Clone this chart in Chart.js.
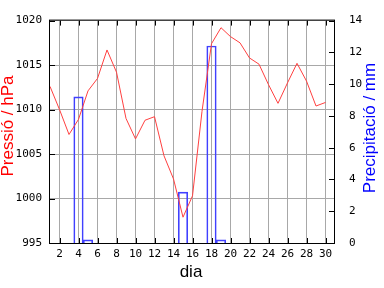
<!DOCTYPE html>
<html>
<head>
<meta charset="utf-8">
<script src="https://cdn.jsdelivr.net/npm/chart.js@4/dist/chart.umd.min.js"></script>
<style>
  html, body { margin: 0; padding: 0; background: #fff; }
  canvas { display: block; }
</style>
</head>
<body>
<canvas id="chart" width="384" height="288"></canvas>
<script>
// Data
const days = [1, 2, 3, 4, 5, 6, 7, 8, 9, 10, 11, 12, 13, 14, 15,
              16, 17, 18, 19, 20, 21, 22, 23, 24, 25, 26, 27, 28, 29, 30];
const pressure = [1012.6, 1010.0, 1007.2, 1008.9, 1012.1, 1013.5, 1016.7, 1014.2, 1009.0, 1006.7,
                  1008.8, 1009.2, 1004.8, 1002.2, 997.9, 1000.3, 1009.8, 1017.4, 1019.2, 1018.2,
                  1017.5, 1015.8, 1015.1, 1012.8, 1010.7, 1013.0, 1015.2, 1013.2, 1010.4, 1010.8];
const precip = [null, null, null, 9.2, 0.2, null, null, null, null, null,
                null, null, null, null, 3.2, null, null, 12.4, 0.2, null,
                null, null, null, null, null, null, null, null, null, null];
const dayTicks = [2, 4, 6, 8, 10, 12, 14, 16, 18, 20, 22, 24, 26, 28, 30];
const pressureTicks = [995, 1000, 1005, 1010, 1015, 1020];
const precipTicks = [0, 2, 4, 6, 8, 10, 12, 14];

const tickFont = { family: 'DejaVu Sans Mono', size: 11 };
const gridGray = '#a8a8a8';
const plain = v => String(v);

// white background, frame, inward tick marks and axis titles
const framePlugin = {
    id: 'frame',
    beforeDraw(chart) {
        const ctx = chart.ctx;
        ctx.save();
        ctx.fillStyle = '#fff';
        ctx.fillRect(0, 0, chart.width, chart.height);
        ctx.restore();
    },
    afterDraw(chart) {
        const { ctx, chartArea: a, scales } = chart;
        ctx.save();
        ctx.strokeStyle = '#000';
        ctx.lineWidth = 1;
        ctx.strokeRect(a.left - 0.5, a.top - 0.5, a.right - a.left, a.bottom - a.top + 1);

        ctx.beginPath();
        dayTicks.forEach(d => {
            const x = Math.round(scales.x.getPixelForValue(d)) + 0.5;
            ctx.moveTo(x, a.bottom); ctx.lineTo(x, a.bottom - 5);
            ctx.moveTo(x, a.top); ctx.lineTo(x, a.top + 5);
        });
        pressureTicks.forEach(v => {
            const y = Math.round(scales.y.getPixelForValue(v)) + 0.5;
            ctx.moveTo(a.left, y); ctx.lineTo(a.left + 5, y);
        });
        precipTicks.forEach(v => {
            const y = Math.round(scales.y1.getPixelForValue(v)) + 0.5;
            ctx.moveTo(a.right - 1, y); ctx.lineTo(a.right - 6, y);
        });
        ctx.stroke();

        // axis titles
        ctx.font = '17px "Liberation Sans"';
        ctx.textAlign = 'center';
        ctx.textBaseline = 'middle';
        ctx.fillStyle = '#000';
        ctx.fillText('dia', 191, 272);

        ctx.save();
        ctx.translate(8, 126);
        ctx.rotate(-Math.PI / 2);
        ctx.fillStyle = '#ff0000';
        ctx.fillText('Pressió / hPa', 0, 0);
        ctx.restore();

        ctx.save();
        ctx.translate(370, 128);
        ctx.rotate(-Math.PI / 2);
        ctx.fillStyle = '#0000ff';
        ctx.fillText('Precipitació / mm', 0, 0);
        ctx.restore();

        ctx.restore();
    }
};

new Chart(document.getElementById('chart'), {
    data: {
        datasets: [
            {
                type: 'line',
                label: 'Pressió',
                data: days.map((d, i) => ({ x: d, y: pressure[i] })),
                yAxisID: 'y',
                borderColor: '#ff4040',
                borderWidth: 1,
                pointRadius: 0,
                tension: 0,
                fill: false,
                order: 0
            },
            {
                type: 'bar',
                label: 'Precipitació',
                data: days.map((d, i) => ({ x: d, y: precip[i] })),
                yAxisID: 'y1',
                backgroundColor: 'rgba(0,0,0,0)',
                borderColor: '#4040ff',
                borderWidth: 1,
                barThickness: 9.5,
                order: 1
            }
        ]
    },
    options: {
        responsive: false,
        animation: false,
        devicePixelRatio: 1,
        layout: { padding: { top: 1, left: 0, right: 0, bottom: 0 } },
        plugins: { legend: { display: false }, tooltip: { enabled: false } },
        scales: {
            x: {
                type: 'linear',
                min: 1,
                max: 31,
                offset: false,
                afterBuildTicks: axis => { axis.ticks = dayTicks.map(v => ({ value: v })); },
                afterFit: axis => { axis.height = 45; },
                grid: { color: gridGray, drawTicks: false, offset: false },
                border: { display: false },
                ticks: { font: tickFont, color: '#000', padding: 5, maxRotation: 0, autoSkip: false, callback: plain }
            },
            y: {
                position: 'left',
                min: 995,
                max: 1020,
                afterBuildTicks: axis => { axis.ticks = pressureTicks.map(v => ({ value: v })); },
                afterFit: axis => { axis.width = 50; },
                grid: { color: gridGray, drawTicks: false },
                border: { display: false },
                ticks: { font: tickFont, color: '#000', padding: 8, callback: plain }
            },
            y1: {
                position: 'right',
                min: 0,
                max: 14,
                afterBuildTicks: axis => { axis.ticks = precipTicks.map(v => ({ value: v })); },
                afterFit: axis => { axis.width = 49; },
                grid: { display: false, drawTicks: false },
                border: { display: false },
                ticks: { font: tickFont, color: '#000', padding: 14, callback: plain }
            }
        }
    },
    plugins: [framePlugin]
});
</script>
</body>
</html>
